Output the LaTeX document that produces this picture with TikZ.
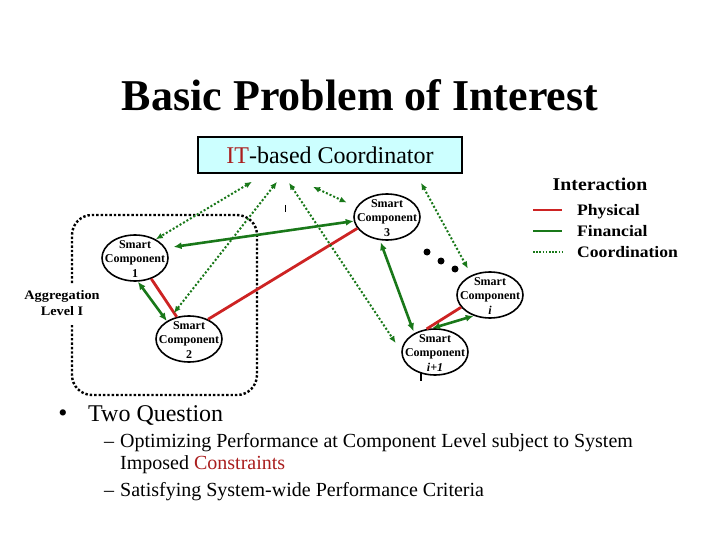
\documentclass[tikz,border=0pt]{standalone}
\usepackage{fontspec}
\setmainfont{Liberation Serif}
\usetikzlibrary{shapes.geometric,arrows.meta}
\definecolor{itred}{RGB}{170,30,30}
\definecolor{phys}{RGB}{205,35,35}
\definecolor{fin}{RGB}{25,120,25}
\definecolor{boxfill}{RGB}{204,255,255}
\begin{document}
\begin{tikzpicture}[x=1pt,y=-1pt,
  sc/.style={ellipse,draw,line width=1.6pt,minimum width=66pt,minimum height=46pt,inner sep=0pt},
  sctext/.style={font=\bfseries\fontsize{12}{14.5}\selectfont,align=center,inner sep=0pt},
  co/.style={fin,line width=2pt,dash pattern=on 2pt off 2pt,{Latex[length=7pt,width=6pt]}-{Latex[length=7pt,width=6pt]}},
  fi/.style={fin,line width=2.6pt,{Latex[length=8pt,width=7pt]}-{Latex[length=8pt,width=7pt]}},
  ph/.style={phys,line width=2.8pt},
  legtext/.style={anchor=base west,font=\bfseries\fontsize{16}{18}\selectfont,inner sep=0pt},
  body/.style={anchor=base west,font=\fontsize{20}{22}\selectfont,inner sep=0pt}]
\useasboundingbox (0,0) rectangle (720,540);

% title
\node[anchor=base,font=\bfseries\fontsize{44}{48}\selectfont,inner sep=0pt] (title) at (360,111) {Basic Problem of Interest};

% coordinator
\node[draw,line width=1.6pt,fill=boxfill,minimum width=264pt,minimum height=36pt,inner sep=0pt,
  font=\fontsize{24}{28}\selectfont] (coord) at (330,155) {\textcolor{itred}{IT}-based Coordinator};

% legend
\node[anchor=base,font=\bfseries\fontsize{18}{20}\selectfont,inner sep=0pt] (inter) at (600,191) {\scalebox{1.1}[1]{Interaction}};
\coordinate (l1a) at (533,210); \coordinate (l1b) at (562,210);
\coordinate (l2a) at (533,231); \coordinate (l2b) at (562,231);
\coordinate (l3a) at (533,252); \coordinate (l3b) at (562,252);
\draw[ph,line width=2.2pt] (l1a) -- (l1b);
\draw[fin,line width=2.2pt] (l2a) -- (l2b);
\draw[fin,line width=1.6pt,dash pattern=on 1.6pt off 1.6pt] (l3a) -- (l3b);
\node[legtext] (lp) at (577,215.5) {\scalebox{1.1}[1]{Physical}};
\node[legtext] (lf) at (577,236.5) {\scalebox{1.1}[1]{Financial}};
\node[legtext] (lc) at (577,257.5) {\scalebox{1.1}[1]{Coordination}};

% aggregation box
\draw[line width=2.4pt,dash pattern=on 2.4pt off 2pt,rounded corners=20pt]
  (72,283) -- (72,215) -- (257,215) -- (257,395) -- (72,395) -- (72,325);
\node[font=\bfseries\fontsize{13}{16}\selectfont,align=center,inner sep=0pt] (agg) at (62,303)
  {\scalebox{1.1}[1]{Aggregation}\\\scalebox{1.1}[1]{Level I}};

% components
\node[sc,label={[sctext,yshift=-1pt]center:Smart\\Component\\1}] (sc1) at (135,258) {};
\node[sc,label={[sctext,yshift=-1pt]center:Smart\\Component\\2}] (sc2) at (189,339) {};
\node[sc,label={[sctext,yshift=-1pt]center:Smart\\Component\\3}] (sc3) at (387,217) {};
\node[sc,label={[sctext,yshift=-1pt]center:Smart\\Component\\{\itshape i}}] (sci) at (490,295) {};
\node[sc,label={[sctext,yshift=-1pt]center:Smart\\Component\\{\itshape i+1}}] (scj) at (435,352) {};

% dots
\fill (427,252) circle [radius=3.5];
\fill (441,261) circle [radius=3.5];
\fill (455,269) circle [radius=3.5];

% physical
\draw[ph] (sc1.-52) -- (sc2.119);
\draw[ph] (sc2.46) -- (sc3.201);
\draw[ph] (sci.203) -- (scj.110);

% financial
\draw[fi,shorten <=8pt] (sc1.18) -- (sc3.187);
\draw[fi] (sc1.-83) -- (sc2.141);
\draw[fi,shorten <=2pt,shorten >=2pt] (sc3.-107) -- (scj.138);
\draw[fi] (sci.-128) -- (scj.97);

% coordination
\draw[co] ([xshift=-78pt,yshift=-8pt]coord.south) -- (sc1.42);
\draw[co] ([xshift=-53pt,yshift=-8pt]coord.south) -- ([shift={(-2pt,4pt)}]sc2.121);
\draw[co] ([xshift=-41pt,yshift=-9pt]coord.south) -- ([xshift=-8pt]scj.164);
\draw[co] ([xshift=-17pt,yshift=-13pt]coord.south) -- ([xshift=-10pt,yshift=4pt]sc3.161);
\draw[co] ([xshift=91pt,yshift=-9pt]coord.south) -- ([shift={(-5pt,6pt)}]sci.130);

% small marks
\draw[line width=1pt] (285,205) -- (285,212);
\draw[line width=1.5pt] (421,373) -- (421,381);

% bullets
\node[anchor=base,font=\fontsize{26}{28}\selectfont,inner sep=0pt] (b0) at (63,421) {•};
\node[anchor=base west,font=\fontsize{24}{28}\selectfont,inner sep=0pt] (q) at (88,421) {Two Question};
\node[body] (d1) at (104,447) {–};
\node[body] (t1) at (120,447) {Optimizing Performance at Component Level subject to System};
\node[body] (t1b) at (120,469) {Imposed \textcolor{itred}{Constraints}};
\node[body] (d2) at (104,496) {–};
\node[body] (t2) at (120,496) {Satisfying System-wide Performance Criteria};
\end{tikzpicture}
\end{document}
